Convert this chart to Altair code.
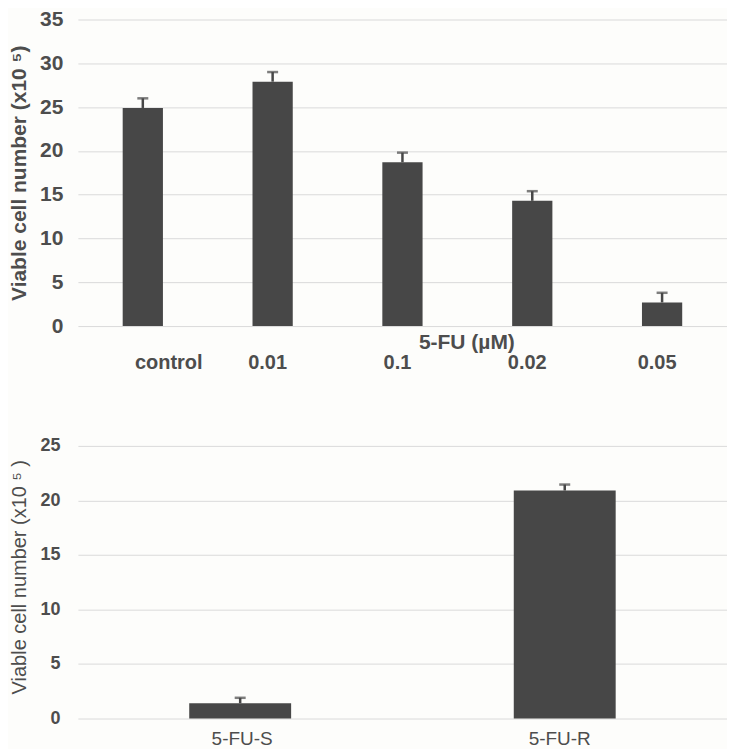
import altair as alt
import pandas as pd

# Top panel data
doses = ["control", "0.01", "0.1", "0.02", "0.05"]
viable = [24.9, 27.9, 18.7, 14.3, 2.7]
viable_err = [1.1, 1.1, 1.1, 1.1, 1.1]

# Bottom panel data
lines = ["5-FU-S", "5-FU-R"]
viable2 = [1.4, 20.9]
viable2_err = [0.5, 0.55]

BAR = "#474747"
TXT = "#4d4d4d"
GRID = "#dadada"
FONT = "Liberation Sans"

df1 = pd.DataFrame({"dose": doses, "v": viable, "err": viable_err})
df1["hi"] = df1["v"] + df1["err"]
df2 = pd.DataFrame({"line": lines, "v": viable2, "err": viable2_err})
df2["hi"] = df2["v"] + df2["err"]

x1 = alt.X(
    "dose:N",
    sort=doses,
    scale=alt.Scale(paddingInner=0.69, paddingOuter=0.345),
    axis=alt.Axis(
        title="5-FU (µM)",
        titleFont=FONT, titleFontSize=21, titleFontWeight="bold", titleColor=TXT,
        titleX=389, titleY=16, titleBaseline="middle", titleAlign="center",
        labelAngle=0, labelFont=FONT, labelFontSize=20, labelFontWeight="bold",
        labelColor=TXT, labelPadding=26, ticks=False, domain=False, grid=False,
        labelOffset={"condition": {"test": "datum.value === 'control'", "value": 26}, "value": -5},
    ),
)
y1 = alt.Y(
    "v:Q",
    scale=alt.Scale(domain=[0, 35]),
    axis=alt.Axis(
        title="Viable cell number (x10 ⁵)", values=[0, 5, 10, 15, 20, 25, 30, 35],
        titleFont=FONT, titleFontSize=21, titleFontWeight="bold", titleColor=TXT,
        titlePadding=10,
        labelFont=FONT, labelFontSize=21, labelFontWeight="bold", labelColor=TXT,
        labelPadding=15, ticks=False, domain=False, grid=True, gridColor=GRID, gridWidth=1,
    ),
)

base1 = alt.Chart(df1)
bars1 = base1.mark_bar(color=BAR).encode(x=x1, y=y1)
err1 = base1.mark_rule(color=BAR, strokeWidth=2.5).encode(
    x=alt.X("dose:N", sort=doses), y="v:Q", y2="hi:Q")
cap1 = base1.mark_tick(color=BAR, thickness=2.5, size=11, orient="horizontal").encode(
    x=alt.X("dose:N", sort=doses), y="hi:Q")
top = alt.layer(bars1, err1, cap1).properties(width=650, height=307)

x2 = alt.X(
    "line:N",
    sort=lines,
    scale=alt.Scale(paddingInner=0.686, paddingOuter=0.343),
    axis=alt.Axis(
        title=None, labelAngle=0, labelFont=FONT, labelFontSize=19,
        labelColor=TXT, labelPadding=11, ticks=False, domain=False, grid=False,
        labelOffset={"condition": {"test": "datum.value === '5-FU-S'", "value": 2}, "value": -5},
    ),
)
y2 = alt.Y(
    "v:Q",
    scale=alt.Scale(domain=[0, 25]),
    axis=alt.Axis(
        title="Viable cell number (x10 ⁵ )", values=[0, 5, 10, 15, 20, 25],
        titleFont=FONT, titleFontSize=20, titleFontWeight="normal", titleColor=TXT,
        titlePadding=10,
        labelFont=FONT, labelFontSize=18, labelFontWeight="bold", labelColor=TXT,
        labelPadding=18, ticks=False, domain=False, grid=True, gridColor=GRID, gridWidth=1,
    ),
)
base2 = alt.Chart(df2)
bars2 = base2.mark_bar(color=BAR).encode(x=x2, y=y2)
err2 = base2.mark_rule(color=BAR, strokeWidth=2.5).encode(
    x=alt.X("line:N", sort=lines), y="v:Q", y2="hi:Q")
cap2 = base2.mark_tick(color=BAR, thickness=2.5, size=11, orient="horizontal").encode(
    x=alt.X("line:N", sort=lines), y="hi:Q")
bottom = alt.layer(bars2, err2, cap2).properties(width=650, height=284)

chart = alt.vconcat(top, bottom, spacing=63).properties(
    background="#fdfdfb",
    padding={"left": 0, "top": 0, "right": 0, "bottom": 0},
).configure_view(stroke=None)

chart.save("out.html", embed_options={"renderer": "svg", "actions": False})
